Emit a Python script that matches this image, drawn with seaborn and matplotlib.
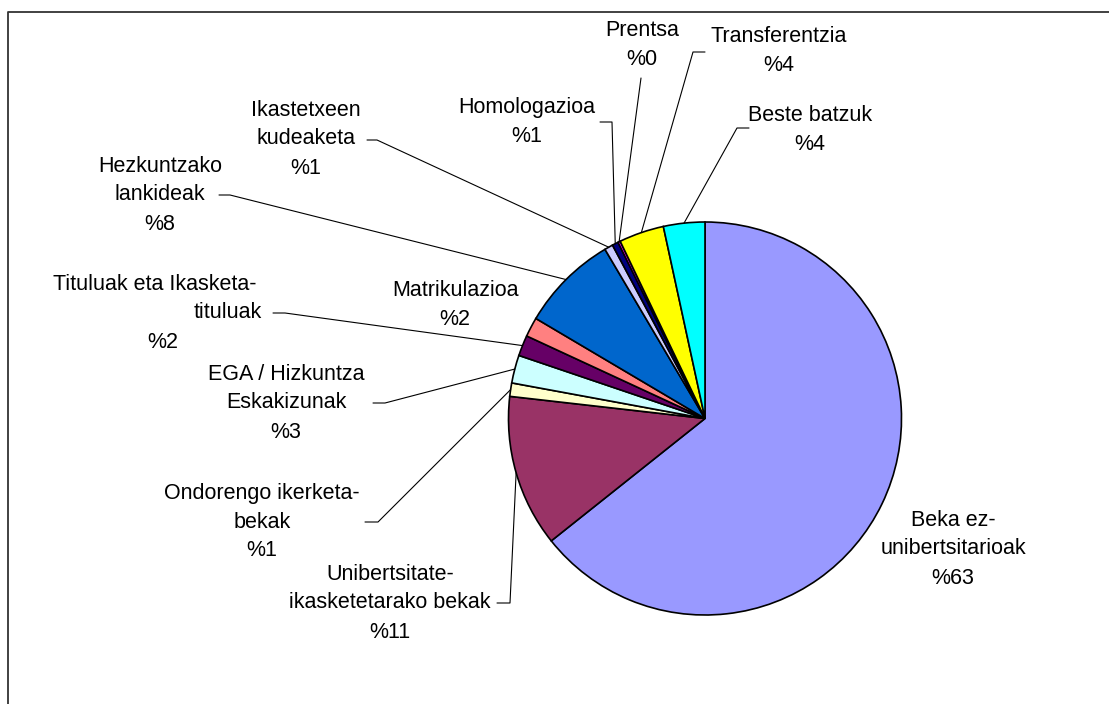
import matplotlib
matplotlib.use("Agg")
import matplotlib.pyplot as plt
import seaborn as sns
import numpy as np

# slices clockwise from 12 o'clock (shares, in %)
names = ["Beka ez-\nunibertsitarioak", "Unibertsitate-\nikasketetarako bekak",
         "Ondorengo ikerketa-\nbekak", "EGA / Hizkuntza\nEskakizunak",
         "Tituluak eta Ikasketa-\ntituluak", "Matrikulazioa",
         "Hezkuntzako\nlankideak", "Ikastetxeen\nkudeaketa", "Homologazioa",
         "Prentsa", "Transferentzia", "Beste batzuk"]
shares = [64.3, 12.5, 1.1, 2.3, 1.7, 1.6, 8.0, 0.7, 0.5, 0.2, 3.7, 3.4]
pct_printed = [63, 11, 1, 3, 2, 2, 8, 1, 1, 0, 4, 4]
colors = ["#9999FF", "#993366", "#FFFFCC", "#CCFFFF", "#660066", "#FF8080",
          "#0066CC", "#CCCCFF", "#000080", "#FF00FF", "#FFFF00", "#00FFFF"]

# label centre (pixel coords of the 1109x704 canvas) and leader stub (or None)
label_xy = [(953, 549), (390, 603), (262, 522), (286, 403), (155, 313), (455, 305),
            (160, 195), (306, 139), (527, 122), (642, 45), (779, 51), (810, 130)]
stubs = [None, (497, 510, 603), (365, 378, 522), (373, 385, 403), (273, 285, 313), None,
         (219, 230, 195), (367, 377, 140), (600, 612, 122), (641, 641, 78),
         (705, 693, 52), (749, 737, 128)]
line_shift = {(4, 1): 73, (4, 2): 8}  # Excel's odd centring of the Tituluak label
line_gap = 29

sns.set_theme(style="white")
plt.rcParams["font.family"] = ["Liberation Sans", "DejaVu Sans"]

fig = plt.figure(figsize=(11.09, 7.04), dpi=100)
ax = fig.add_axes([0, 0, 1, 1])

cx, cy, r = 705, 418.5, 196.5
wedges, _ = ax.pie(shares, colors=sns.color_palette(colors), startangle=-90,
                   counterclock=True, center=(cx, cy), radius=r,
                   wedgeprops=dict(edgecolor="black", linewidth=1.2))

ax.set_xlim(0, 1109)
ax.set_ylim(704, 0)
ax.set_aspect("equal")
ax.axis("off")

for i, (w, name, pct, (tx, ty), stub) in enumerate(zip(wedges, names, pct_printed, label_xy, stubs)):
    lines = f"{name}\n%{pct}".split("\n")
    n = len(lines)
    for j, line in enumerate(lines):
        ax.text(tx + line_shift.get((i, j), 0), ty + (j - (n - 1) / 2) * line_gap, line,
                ha="center", va="center", fontsize=15.5, color="black")
    if stub is None:
        continue
    mid = np.deg2rad((w.theta1 + w.theta2) / 2)
    ex, ey = cx + r * np.cos(mid), cy + r * np.sin(mid)
    x0, x1, sy = stub
    ax.plot([x0, x1, ex], [sy, sy, ey], color="black", lw=0.8)

# chart area border (only left and top are inside the picture)
ax.plot([8, 8, 1109], [704, 12, 12], color="#333333", lw=1.3, clip_on=False)

fig.savefig("out.png", dpi=100)
